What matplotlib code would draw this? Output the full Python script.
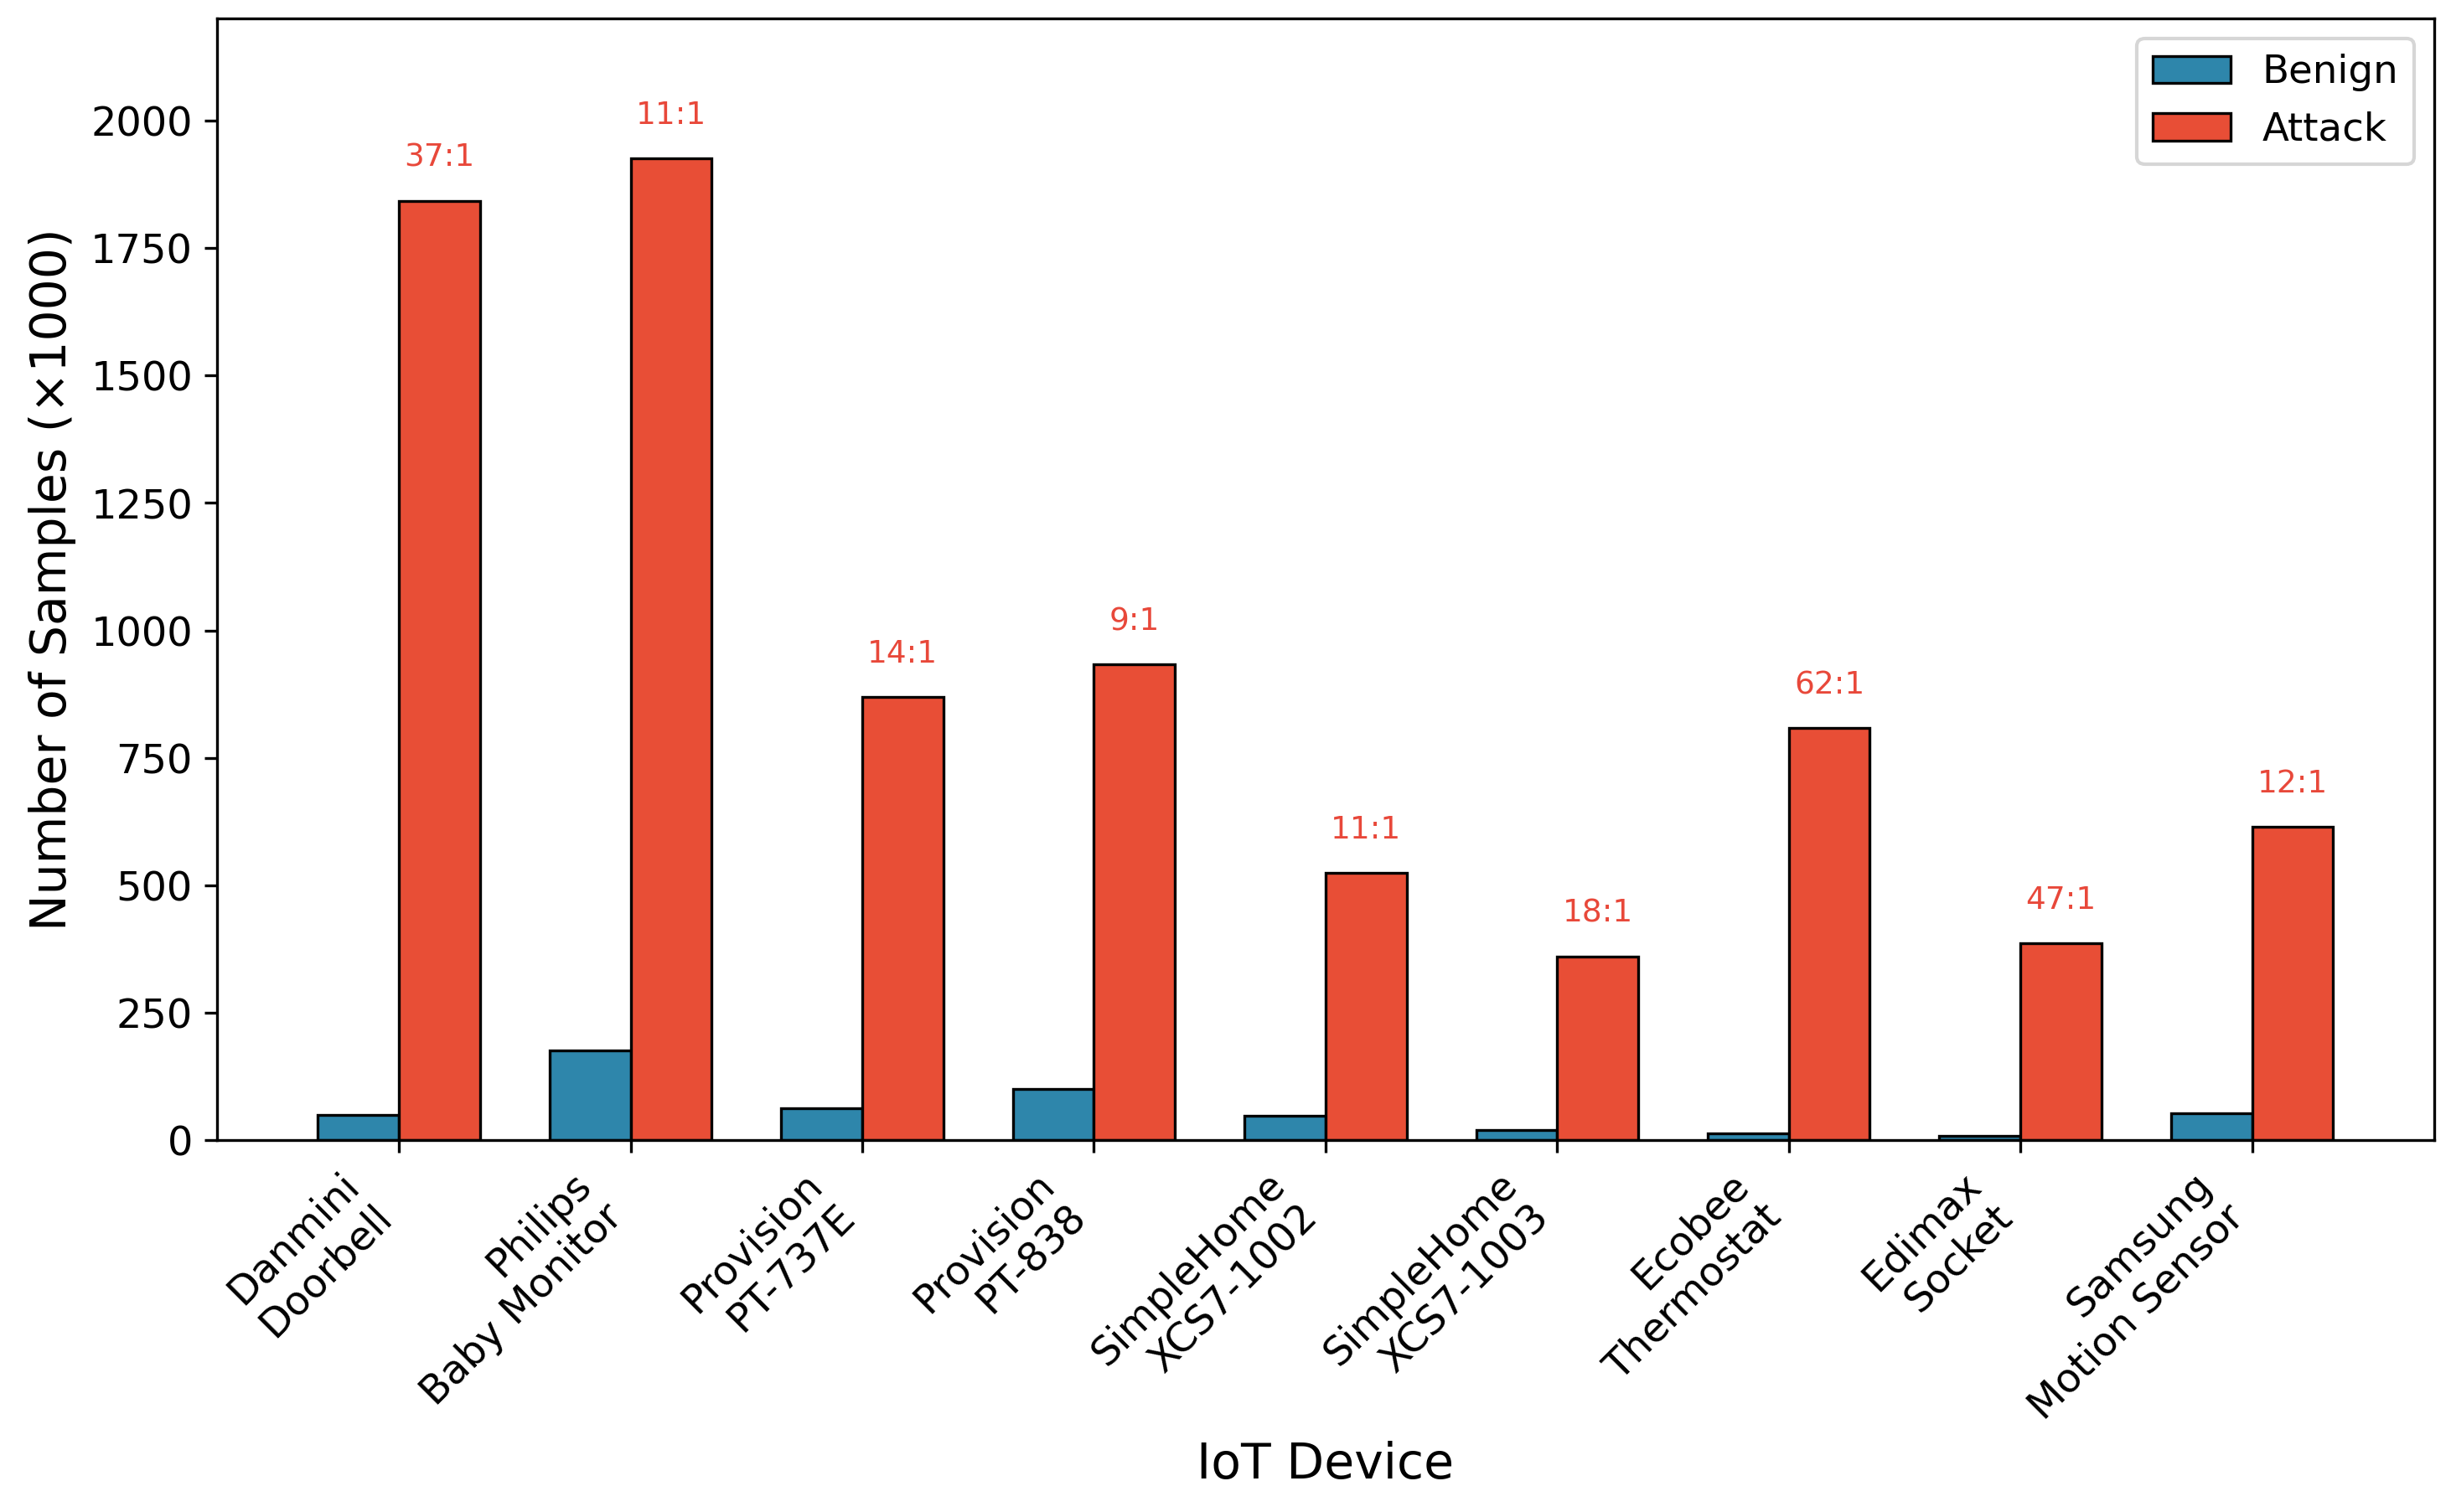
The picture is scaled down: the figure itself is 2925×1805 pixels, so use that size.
import numpy as np
import matplotlib
matplotlib.use("Agg")
import matplotlib.pyplot as plt

devices = ["Danmini\nDoorbell", "Philips\nBaby Monitor", "Provision\nPT-737E",
           "Provision\nPT-838", "SimpleHome\nXCS7-1002", "SimpleHome\nXCS7-1003",
           "Ecobee\nThermostat", "Edimax\nSocket", "Samsung\nMotion Sensor"]
benign = [50, 176, 63, 100, 48, 20, 13, 9, 53]
attack = [1843, 1926, 869, 933, 524, 360, 808, 386, 615]
ratios = ["37:1", "11:1", "14:1", "9:1", "11:1", "18:1", "62:1", "47:1", "12:1"]

blue = "#2E86AB"
red = "#E84E36"

fig = plt.figure(figsize=(9.75, 6.017), dpi=300)
ax = fig.add_axes([0.0886, 0.2459, 0.9044, 0.7417])

x = np.arange(len(devices))
w = 0.35
ax.bar(x - w/2, benign, w, color=blue, edgecolor="black", linewidth=0.8, label="Benign")
bars = ax.bar(x + w/2, attack, w, color=red, edgecolor="black", linewidth=0.8, label="Attack")

for b, r in zip(bars, ratios):
    ax.annotate(r, (b.get_x() + b.get_width()/2, b.get_height()),
                xytext=(0, 8), textcoords="offset points",
                ha="center", va="bottom", fontsize=9, color="#E8483A")

ax.set_ylim(0, 2200)
ax.set_xticks(x)
ax.set_xticklabels(devices, rotation=45, ha="right", fontsize=11.5)
ax.tick_params(axis="y", labelsize=11.5)
ax.set_xlabel("IoT Device", fontsize=14)
ax.set_ylabel("Number of Samples (×1000)", fontsize=14)
ax.legend(loc="upper right", fontsize=11.2)

fig.savefig("out.png", dpi=300)
